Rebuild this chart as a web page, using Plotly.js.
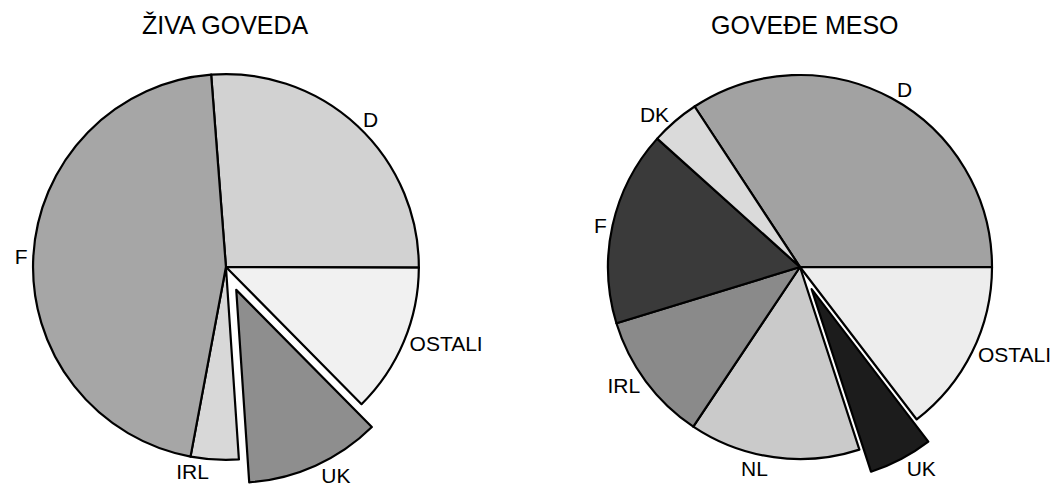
<!DOCTYPE html>
<html>
<head>
<meta charset="utf-8">
<script src="https://cdn.plot.ly/plotly-3.0.1.min.js"></script>
<style>html,body{margin:0;padding:0;background:#fff;}#chart{width:1062px;height:500px;}</style>
</head>
<body>
<div id="chart"></div>
<script>
// Left pie: live cattle (shares, %)
var liveLabels = ["D", "OSTALI", "UK", "IRL", "F"];
var liveValues = [26.2, 12.5, 11.3, 4.0, 45.7];
var livePull = [0, 0, 0.13, 0, 0];
var liveColors = ["#d2d2d2", "#f1f1f1", "#8e8e8e", "#d8d8d8", "#a6a6a6"];

// Right pie: beef (shares, %)
var beefLabels = ["D", "OSTALI", "UK", "NL", "IRL", "F", "DK"];
var beefValues = [34.3, 14.6, 5.4, 14.4, 10.9, 16.4, 4.1];
var beefPull = [0, 0, 0.13, 0, 0, 0, 0];
var beefColors = ["#a2a2a2", "#ededed", "#1c1c1c", "#cacaca", "#8a8a8a", "#3a3a3a", "#dadada"];

var titles = ["ŽIVA GOVEDA", "GOVEĐE MESO"];

var fontFam = "Liberation Sans, Arial, Helvetica, sans-serif";

var data = [
  {
    type: "pie",
    labels: liveLabels,
    values: liveValues,
    pull: livePull,
    sort: false,
    direction: "clockwise",
    rotation: -4.4,
    textinfo: "label",
    textposition: "outside",
    outsidetextfont: {family: fontFam, size: 21, color: "#000"},
    marker: {colors: liveColors, line: {color: "#000", width: 2.2}},
    domain: {x: [0.0075, 0.418], y: [0.03, 0.902]},
    hoverinfo: "none",
    showlegend: false
  },
  {
    type: "pie",
    labels: beefLabels,
    values: beefValues,
    pull: beefPull,
    sort: false,
    direction: "clockwise",
    rotation: -33.3,
    textinfo: "label",
    textposition: "outside",
    outsidetextfont: {family: fontFam, size: 21, color: "#000"},
    marker: {colors: beefColors, line: {color: "#000", width: 2.2}},
    domain: {x: [0.549, 0.9576], y: [0.032, 0.9]},
    hoverinfo: "none",
    showlegend: false
  }
];

var layout = {
  width: 1062,
  height: 500,
  margin: {l: 0, r: 0, t: 0, b: 0},
  paper_bgcolor: "#fff",
  showlegend: false,
  annotations: [
    {text: titles[0], x: 225 / 1062, y: 1 - 25 / 500, xref: "paper", yref: "paper",
     xanchor: "center", yanchor: "middle", showarrow: false,
     font: {family: fontFam, size: 25, color: "#000"}},
    {text: titles[1], x: 805 / 1062, y: 1 - 25 / 500, xref: "paper", yref: "paper",
     xanchor: "center", yanchor: "middle", showarrow: false,
     font: {family: fontFam, size: 25, color: "#000"}}
  ]
};

Plotly.newPlot("chart", data, layout, {displayModeBar: false, staticPlot: true});
</script>
</body>
</html>
